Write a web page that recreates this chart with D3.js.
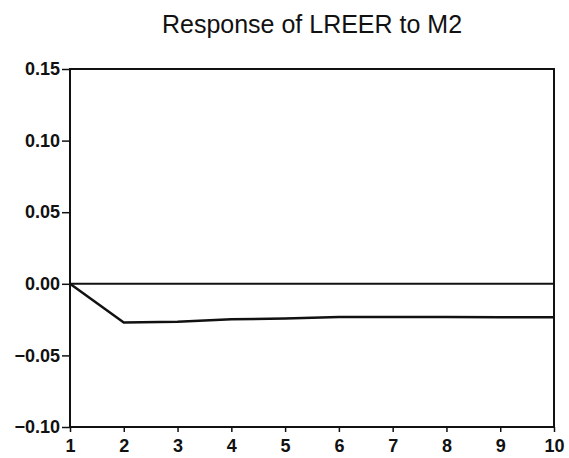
<!DOCTYPE html>
<html lang="en">
<head>
<meta charset="UTF-8">
<title>Response of LREER to M2</title>
<script src="https://d3js.org/d3.v7.min.js"></script>
<style>
  body { margin: 0; background: #fff; }
  svg { display: block; }
  text { font-family: "Liberation Sans", Arial, sans-serif; fill: #111; }
</style>
</head>
<body>
<svg id="chart"></svg>
<script>
const width = 569, height = 458;
const margin = { top: 69, right: 15, bottom: 31, left: 70 };

// data
const periods = [1, 2, 3, 4, 5, 6, 7, 8, 9, 10];
const response = [0, -0.027, -0.0265, -0.0248, -0.0243, -0.0232, -0.0232, -0.0232, -0.0233, -0.0233];
const yTicks = [-0.10, -0.05, 0.00, 0.05, 0.10, 0.15];
const title = "Response of LREER to M2";

const svg = d3.select("#chart").attr("width", width).attr("height", height);

const x = d3.scaleLinear().domain([1, 10]).range([margin.left, width - margin.right]);
const y = d3.scaleLinear().domain([-0.10, 0.15]).range([height - margin.bottom, margin.top]);

// title
svg.append("text")
  .attr("x", (x.range()[0] + x.range()[1]) / 2)
  .attr("y", 33)
  .attr("text-anchor", "middle")
  .style("font-size", "25px")
  .text(title);

// axes
const yAxis = svg.append("g")
  .attr("transform", `translate(${margin.left},0)`)
  .call(d3.axisLeft(y).tickValues(yTicks).tickFormat(d3.format(".2f")).tickSize(8).tickPadding(2));

const xAxis = svg.append("g")
  .attr("transform", `translate(0,${height - margin.bottom})`)
  .call(d3.axisBottom(x).tickValues(periods).tickFormat(d3.format("d")).tickSize(5).tickPadding(7));

[xAxis, yAxis].forEach(g => {
  g.select(".domain").remove();
  g.selectAll("line").attr("stroke", "#111").attr("stroke-width", 1.5);
  g.selectAll("text").style("font-size", "18px").style("font-weight", "bold").attr("fill", "#111");
});

// frame
svg.append("rect")
  .attr("x", x(1)).attr("y", y(0.15))
  .attr("width", x(10) - x(1)).attr("height", y(-0.10) - y(0.15))
  .attr("fill", "none").attr("stroke", "#111").attr("stroke-width", 2);

// zero line
svg.append("line")
  .attr("x1", x(1)).attr("x2", x(10))
  .attr("y1", y(0)).attr("y2", y(0))
  .attr("stroke", "#111").attr("stroke-width", 2);

// impulse response
const line = d3.line().x((d, i) => x(periods[i])).y(d => y(d));
svg.append("path")
  .datum(response)
  .attr("d", line)
  .attr("fill", "none")
  .attr("stroke", "#111")
  .attr("stroke-width", 2.5);
</script>
</body>
</html>
